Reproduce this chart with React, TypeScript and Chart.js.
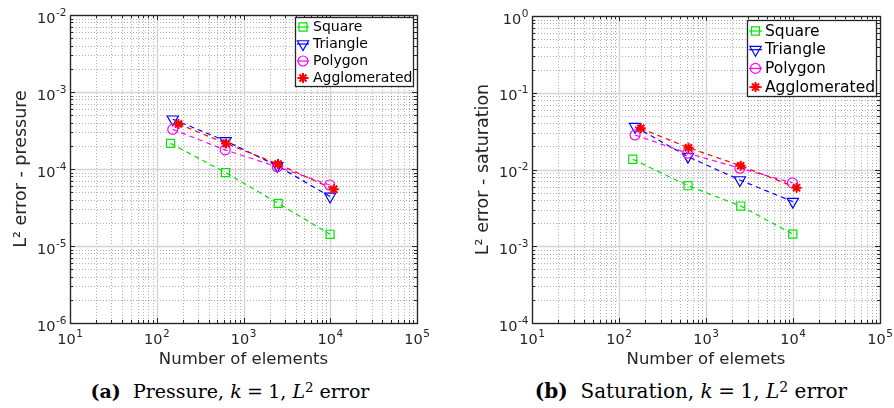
import React, { useEffect, useRef } from 'react';
import { Chart, registerables } from 'chart.js';
import { drawPoint } from 'chart.js/helpers';

Chart.register(...registerables);

// ---------------- data ----------------
const seriesNames = ['Square', 'Triangle', 'Polygon', 'Agglomerated'];

const squareElements = [144, 621, 2510, 9950];
const triangleElements = [153, 621, 2450, 9950];
const polygonElements = [153, 615, 2450, 9850];
const agglomeratedElements = [178, 630, 2500, 11000];

const pressureSquare = [2.15e-4, 9.0e-5, 3.58e-5, 1.42e-5];
const pressureTriangle = [4.43e-4, 2.32e-4, 1.1e-4, 4.4e-5];
const pressurePolygon = [3.27e-4, 1.77e-4, 1.07e-4, 6.2e-5];
const pressureAgglomerated = [3.84e-4, 2.15e-4, 1.16e-4, 5.45e-5];

const saturationSquare = [0.0136, 0.00615, 0.00334, 0.00144];
const saturationTriangle = [0.0361, 0.0147, 0.0073, 0.00381];
const saturationPolygon = [0.0282, 0.0163, 0.0104, 0.0067];
const saturationAgglomerated = [0.0344, 0.0192, 0.0112, 0.0058];

const xTickValues = [1e1, 1e2, 1e3, 1e4, 1e5];
const pressureTickValues = [1e-6, 1e-5, 1e-4, 1e-3, 1e-2];
const saturationTickValues = [1e-4, 1e-3, 1e-2, 1e-1, 1e0];

// ---------------- styles ----------------
const seriesStyles = [
  { color: '#00e600', pointStyle: 'rect', radius: 5.7, rotation: 0, pw: 1.2 },
  { color: '#0000ff', pointStyle: 'triangle', radius: 6.5, rotation: 180, pw: 1.2 },
  { color: '#ff00ff', pointStyle: 'circle', radius: 5, rotation: 0, pw: 1.2 },
  { color: '#ff0000', pointStyle: 'star', radius: 5, rotation: 0, pw: 2 },
];

const AXIS = '#262626';
const FONT = '"DejaVu Sans", sans-serif';
const BASE_SIZE = 14.5;
const EXP_SIZE = 10.5;

const exponentOf = (v: number) => String(Math.round(Math.log10(v)));

function logValues(min: number, max: number) {
  const out: { v: number; major: boolean }[] = [];
  const e0 = Math.floor(Math.log10(min) + 1e-9);
  const e1 = Math.ceil(Math.log10(max) - 1e-9);
  for (let e = e0; e <= e1; e++) {
    for (let k = 1; k <= 9; k++) {
      const v = k * Math.pow(10, e);
      if (v >= min * 0.999999 && v <= max * 1.000001) out.push({ v, major: k === 1 });
    }
  }
  return out;
}

const gridPlugin = {
  id: 'matGrid',
  beforeDatasetsDraw(chart: any) {
    const { ctx, chartArea: a, scales } = chart;
    const xs = scales.x;
    const ys = scales.y;
    const xv = logValues(xs.min, xs.max);
    const yv = logValues(ys.min, ys.max);
    ctx.save();
    // minor dotted grid
    ctx.lineWidth = 1;
    ctx.strokeStyle = 'rgba(60,60,60,0.4)';
    ctx.setLineDash([1, 2]);
    ctx.beginPath();
    xv.filter((t) => !t.major).forEach((t) => {
      const p = Math.round(xs.getPixelForValue(t.v)) + 0.5;
      ctx.moveTo(p, a.top);
      ctx.lineTo(p, a.bottom);
    });
    yv.filter((t) => !t.major).forEach((t) => {
      const p = Math.round(ys.getPixelForValue(t.v)) + 0.5;
      ctx.moveTo(a.left, p);
      ctx.lineTo(a.right, p);
    });
    ctx.stroke();
    // major solid grid
    ctx.setLineDash([]);
    ctx.strokeStyle = '#d4d4d4';
    ctx.lineWidth = 1.4;
    ctx.beginPath();
    xv.filter((t) => t.major).forEach((t) => {
      const p = Math.round(xs.getPixelForValue(t.v)) + 0.5;
      ctx.moveTo(p, a.top);
      ctx.lineTo(p, a.bottom);
    });
    yv.filter((t) => t.major).forEach((t) => {
      const p = Math.round(ys.getPixelForValue(t.v)) + 0.5;
      ctx.moveTo(a.left, p);
      ctx.lineTo(a.right, p);
    });
    ctx.stroke();
    // tick marks (inside, all four sides)
    ctx.strokeStyle = AXIS;
    ctx.lineWidth = 1;
    ctx.beginPath();
    xv.forEach((t) => {
      const p = Math.round(xs.getPixelForValue(t.v)) + 0.5;
      const L = t.major ? 5 : 3;
      ctx.moveTo(p, a.bottom);
      ctx.lineTo(p, a.bottom - L);
      ctx.moveTo(p, a.top);
      ctx.lineTo(p, a.top + L);
    });
    yv.forEach((t) => {
      const p = Math.round(ys.getPixelForValue(t.v)) + 0.5;
      const L = t.major ? 5 : 3;
      ctx.moveTo(a.left, p);
      ctx.lineTo(a.left + L, p);
      ctx.moveTo(a.right, p);
      ctx.lineTo(a.right - L, p);
    });
    ctx.stroke();
    // frame
    ctx.lineWidth = 1.3;
    ctx.strokeRect(Math.round(a.left) + 0.5, Math.round(a.top) + 0.5, Math.round(a.right - a.left), Math.round(a.bottom - a.top));

    // tick labels 10^n with real superscripts, placed by the scales
    ctx.fillStyle = AXIS;
    ctx.textBaseline = 'alphabetic';
    const drawPow = (v: number, xLeft: number, baseline: number) => {
      ctx.font = `${BASE_SIZE}px ${FONT}`;
      ctx.textAlign = 'left';
      ctx.fillText('10', xLeft, baseline);
      const w10 = ctx.measureText('10').width;
      ctx.font = `${EXP_SIZE}px ${FONT}`;
      ctx.fillText(exponentOf(v), xLeft + w10 + 0.5, baseline - 7);
    };
    const widthOf = (v: number) => {
      ctx.font = `${BASE_SIZE}px ${FONT}`;
      const w10 = ctx.measureText('10').width;
      ctx.font = `${EXP_SIZE}px ${FONT}`;
      return w10 + 0.5 + ctx.measureText(exponentOf(v)).width;
    };
    xs.ticks.forEach((t: any) => {
      const p = xs.getPixelForValue(t.value);
      const w = widthOf(t.value);
      drawPow(t.value, p - w / 2, a.bottom + 20.5);
    });
    ys.ticks.forEach((t: any) => {
      const p = ys.getPixelForValue(t.value);
      const w = widthOf(t.value);
      drawPow(t.value, a.left - 3.5 - w, p + 7.5);
    });
    ctx.restore();
  },
};

type LegendCfg = { insetRight: number; insetTop: number; width: number; height: number; firstRow: number; rowH: number; fontSize: number; textX: number; markerX: number };

function makeLegendPlugin(cfg: LegendCfg) {
  return {
    id: 'matLegend',
    afterDatasetsDraw(chart: any) {
      const { ctx, chartArea: a } = chart;
      const x0 = Math.round(a.right - cfg.insetRight - cfg.width);
      const y0 = Math.round(a.top + cfg.insetTop);
      ctx.save();
      ctx.fillStyle = '#ffffff';
      ctx.fillRect(x0, y0, cfg.width, cfg.height);
      ctx.strokeStyle = AXIS;
      ctx.lineWidth = 1.3;
      ctx.strokeRect(x0 + 0.5, y0 + 0.5, cfg.width, cfg.height);
      chart.data.datasets.forEach((ds: any, i: number) => {
        const st = seriesStyles[i];
        const cy = y0 + cfg.firstRow + i * cfg.rowH;
        ctx.setLineDash([]);
        ctx.strokeStyle = st.color;
        ctx.lineWidth = 1.2;
        ctx.beginPath();
        ctx.moveTo(x0 + 2, cy);
        ctx.lineTo(x0 + cfg.markerX * 2 - 2, cy);
        ctx.stroke();
        ctx.fillStyle = 'rgba(0,0,0,0)';
        ctx.lineWidth = st.pw;
        drawPoint(ctx, { pointStyle: st.pointStyle, rotation: st.rotation, radius: st.radius, borderWidth: st.pw } as any, x0 + cfg.markerX, cy);
        ctx.fillStyle = '#000000';
        ctx.font = `${cfg.fontSize}px ${FONT}`;
        ctx.textAlign = 'left';
        ctx.textBaseline = 'middle';
        ctx.fillText(ds.label, x0 + cfg.textX, cy + 0.5);
      });
      ctx.restore();
    },
  };
}

type PanelCfg = {
  xs: number[][];
  ys: number[][];
  yTicks: number[];
  xTitle: string;
  yTitle: string;
  yWidth: number;
  yTitlePad: number;
  padRight: number;
  padTop: number;
  legend: LegendCfg;
};

function Panel({ cfg, left }: { cfg: PanelCfg; left: number }) {
  const ref = useRef<HTMLCanvasElement>(null);
  useEffect(() => {
    const canvas = ref.current!;
    const datasets = seriesNames.map((name, i) => {
      const st = seriesStyles[i];
      return {
        label: name,
        data: cfg.xs[i].map((x, j) => ({ x, y: cfg.ys[i][j] })),
        borderColor: st.color,
        backgroundColor: 'rgba(0,0,0,0)',
        borderWidth: 1.2,
        borderDash: [5, 4],
        pointStyle: st.pointStyle,
        pointRadius: st.radius,
        pointRotation: st.rotation,
        pointBorderColor: st.color,
        pointBackgroundColor: 'rgba(0,0,0,0)',
        pointBorderWidth: st.pw,
        fill: false,
        tension: 0,
        order: 3 - i,
      };
    });
    const chart = new Chart(canvas, {
      type: 'line',
      data: { datasets } as any,
      plugins: [gridPlugin, makeLegendPlugin(cfg.legend)],
      options: {
        responsive: false,
        animation: false,
        devicePixelRatio: 1,
        layout: { padding: { left: 0, right: cfg.padRight, top: cfg.padTop, bottom: 0 } },
        plugins: { legend: { display: false }, tooltip: { enabled: false } },
        scales: {
          x: {
            type: 'logarithmic',
            min: xTickValues[0],
            max: xTickValues[xTickValues.length - 1],
            grid: { display: false, drawTicks: false },
            border: { display: false },
            afterBuildTicks: (s: any) => {
              s.ticks = xTickValues.map((v) => ({ value: v }));
            },
            afterFit: (s: any) => {
              s.height = 47;
              s.paddingLeft = 0;
              s.paddingRight = 0;
              s.paddingTop = 0;
              s.paddingBottom = 0;
            },
            ticks: { display: false, autoSkip: false },
            title: {
              display: true,
              text: cfg.xTitle,
              font: { family: FONT, size: 16.5 },
              color: AXIS,
              padding: { top: 0, bottom: 0 },
            },
          },
          y: {
            type: 'logarithmic',
            min: cfg.yTicks[0],
            max: cfg.yTicks[cfg.yTicks.length - 1],
            grid: { display: false, drawTicks: false },
            border: { display: false },
            afterBuildTicks: (s: any) => {
              s.ticks = cfg.yTicks.map((v) => ({ value: v }));
            },
            afterFit: (s: any) => {
              s.width = cfg.yWidth;
              s.paddingLeft = 0;
              s.paddingRight = 0;
              s.paddingTop = 0;
              s.paddingBottom = 0;
            },
            ticks: { display: false, autoSkip: false },
            title: {
              display: true,
              text: cfg.yTitle,
              font: { family: FONT, size: 17.5 },
              color: AXIS,
              padding: { top: cfg.yTitlePad, bottom: 0 },
            },
          },
        },
      } as any,
    });
    return () => chart.destroy();
  }, []);
  return (
    <canvas
      ref={ref}
      width={447}
      height={370}
      style={{ position: 'absolute', left, top: 0, width: 447, height: 370 }}
    />
  );
}

const pressureCfg: PanelCfg = {
  xs: [squareElements, triangleElements, polygonElements, agglomeratedElements],
  ys: [pressureSquare, pressureTriangle, pressurePolygon, pressureAgglomerated],
  yTicks: pressureTickValues,
  xTitle: 'Number of elements',
  yTitle: 'L\u00B2 error - pressure',
  yWidth: 70,
  yTitlePad: 11,
  padRight: 30,
  padTop: 15,
  legend: { insetRight: 4, insetTop: 2, width: 118, height: 69, firstRow: 10, rowH: 17, fontSize: 14, textX: 18, markerX: 8 },
};

const saturationCfg: PanelCfg = {
  xs: [squareElements, triangleElements, polygonElements, agglomeratedElements],
  ys: [saturationSquare, saturationTriangle, saturationPolygon, saturationAgglomerated],
  yTicks: saturationTickValues,
  xTitle: 'Number of elemets',
  yTitle: 'L\u00B2 error - saturation',
  yWidth: 85,
  yTitlePad: 26,
  padRight: 14,
  padTop: 16,
  legend: { insetRight: 4, insetTop: 4, width: 129, height: 76, firstRow: 11, rowH: 18.7, fontSize: 15.5, textX: 18, markerX: 8.5 },
};

const captionStyle: React.CSSProperties = {
  position: 'absolute',
  top: 378,
  width: 447,
  textAlign: 'center',
  fontFamily: '"DejaVu Serif", serif',
  lineHeight: '26px',
  color: '#000',
  whiteSpace: 'nowrap',
};
const supStyle: React.CSSProperties = { fontSize: '0.7em', position: 'relative', top: '-0.45em', verticalAlign: 'baseline' };
const eqStyle: React.CSSProperties = { margin: '0 0.28em' };

export default function App() {
  return (
    <div style={{ position: 'fixed', left: 0, top: 0, width: 894, height: 408, background: '#fff', overflow: 'hidden' }}>
      <Panel cfg={pressureCfg} left={0} />
      <Panel cfg={saturationCfg} left={447} />
      <div style={{ ...captionStyle, left: 6.5, fontSize: 19 }}>
        <b>(a)</b>&nbsp; Pressure, <i>k</i><span style={eqStyle}>=</span>1, <i>L</i><span style={supStyle}>2</span> error
      </div>
      <div style={{ ...captionStyle, left: 467.5, fontSize: 20 }}>
        <b>(b)</b>&nbsp; Saturation, <i>k</i><span style={eqStyle}>=</span>1, <i>L</i><span style={supStyle}>2</span> error
      </div>
    </div>
  );
}
